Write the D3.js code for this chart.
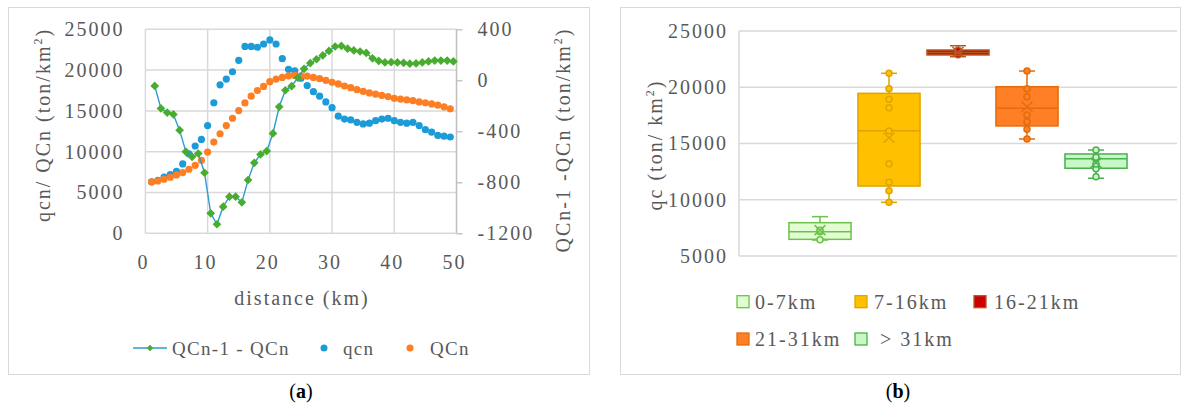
<!DOCTYPE html>
<html lang="en">
<head>
<meta charset="utf-8">
<title>Sediment load along the channel</title>
<script src="https://cdn.jsdelivr.net/npm/d3@7"></script>
<style>
  body { margin: 0; background: #fff; }
  svg text { font-family: "Liberation Serif", "Tinos", "DejaVu Serif", serif !important; fill: #595959; letter-spacing: 2px; white-space: pre; }
</style>
</head>
<body>
<script>
// ---- data ----
var dist = [1,2,3,4,5,6,7,8,9,10,11,12,13,14,15,16,17,18,19,20,21,22,23,24,25,
            26,27,28,29,30,31,32,33,34,35,36,37,38,39,40,41,42,43,44,45,46,47,48,49];
var qcn = [6300,6500,6900,7200,7600,8500,9750,10700,11500,13200,16000,18200,18900,19800,21200,
           22900,22900,22800,23200,23700,23200,21400,20100,19900,19000,18100,17350,16800,16100,15400,
           14350,14000,13900,13600,13400,13500,13800,14000,14100,13800,13600,13500,13600,13200,12700,
           12400,12000,11900,11800];
var QCn = [6300,6420,6630,6870,7150,7440,7850,8330,8940,9960,11180,12200,13200,14100,15040,
           15980,16800,17500,18000,18580,18900,19100,19300,19350,19300,19250,19100,18950,18750,18500,
           18300,18050,17850,17600,17400,17200,17050,16900,16750,16550,16450,16350,16250,16100,16000,
           15850,15700,15500,15250];
var diffDist = [1.5,2.5,3.5,4.5,5.5,6.5,7.5,8.5,9.5,10.5,11.5,12.5,13.5,14.5,15.5,16.5,17.5,18.5,19.5,20.5,
                21.5,22.5,23.5,24.5,25.5,26.5,27.5,28.5,29.5,30.5,31.5,32.5,33.5,34.5,35.5,36.5,37.5,38.5,
                39.5,40.5,41.5,42.5,43.5,44.5,45.5,46.5,47.5,48.5,49.5];
var diff = [-44,-221,-253,-268,-391,-560,-600,-574,-725,-1043,-1129,-991,-913,-913,-957,-782,-647,-581,
            -555,-417,-208,-78,-46,20,90,135,165,195,230,265,270,248,234,226,215,172,152,140,142,140,
            137,130,132,140,148,155,155,155,148];

var xTicks = [0,10,20,30,40,50];
var yLeftTicks = [0,5000,10000,15000,20000,25000];
var yRightTicks = [-1200,-800,-400,0,400];

var categories = ["0-7km","7-16km","16-21km","21-31km","> 31km"];
var boxMin  = [6420, 9770, 22720, 15400, 11910];
var boxQ1   = [6480, 11220, 22870, 16560, 12800];
var boxMed  = [7160, 16140, 23100, 18130, 13650];
var boxQ3   = [7960, 19460, 23310, 20050, 14070];
var boxMax  = [8500, 21240, 23690, 21440, 14420];
var boxMean = [7300, 15510, 23130, 18270, 13290];
var boxPoints = [[6450,7150,7300],
                 [9770,10800,11550,13200,16110,18180,18930,19870,21240],
                 [22900,23100,23300],
                 [15400,16260,16940,17530,19160,19870,21440],
                 [12050,12760,13180,13770,14420]];
var qcTicks = [5000,10000,15000,20000,25000];

var boxFill   = ["#e2fdd2","#ffc000","#cc0000","#ff7f27","#c6f7c4"];
var boxStroke = ["#6cc24a","#e0a400","#b5581f","#e46c0a","#4caf50"];

var W = 1189, H = 409;
var grid = "#d9d9d9";
var plain = function(d) { return String(d); };

var svg = d3.select("body").append("svg")
  .attr("width", W).attr("height", H);
svg.append("rect").attr("width", W).attr("height", H).attr("fill", "#fff");

// panel frames
svg.append("rect").attr("x", 8.5).attr("y", 7.5).attr("width", 581).attr("height", 367)
  .attr("fill", "none").attr("stroke", grid);
svg.append("rect").attr("x", 620.5).attr("y", 7.5).attr("width", 560).attr("height", 367)
  .attr("fill", "none").attr("stroke", grid);

// ================= (a) =================
var x = d3.scaleLinear().domain([0, 50]).range([145.4, 456.5]);
var yL = d3.scaleLinear().domain([0, 25000]).range([233.3, 29.3]);
var yR = d3.scaleLinear().domain([-1200, 400]).range([233.3, 29.3]);

var a = svg.append("g");

a.selectAll("line.hg").data(yLeftTicks).enter().append("line")
  .attr("x1", x(0)).attr("x2", x(50))
  .attr("y1", function(d) { return yL(d); }).attr("y2", function(d) { return yL(d); })
  .attr("stroke", grid).attr("stroke-width", 1.5);
a.selectAll("line.vg").data(xTicks).enter().append("line")
  .attr("y1", yL(0)).attr("y2", yL(25000))
  .attr("x1", function(d) { return x(d); }).attr("x2", function(d) { return x(d); })
  .attr("stroke", grid).attr("stroke-width", 1.5);

var axL = a.append("g").attr("transform", "translate(" + x(0) + ",0)")
  .call(d3.axisLeft(yL).tickValues(yLeftTicks).tickFormat(plain).tickSize(0).tickPadding(21));
var axR = a.append("g").attr("transform", "translate(" + x(50) + ",0)")
  .call(d3.axisRight(yR).tickValues(yRightTicks).tickFormat(plain).tickSize(6).tickPadding(15));
var axB = a.append("g").attr("transform", "translate(0," + yL(0) + ")")
  .call(d3.axisBottom(x).tickValues(xTicks).tickFormat(plain).tickSize(0).tickPadding(22));
[axL, axR, axB].forEach(function(g) {
  g.attr("font-family", null);
  g.select(".domain").remove();
  g.selectAll("text").attr("font-size", 20);
  g.selectAll(".tick line").attr("stroke", "#bfbfbf").attr("stroke-width", 1.3);
});
axB.selectAll("text").attr("dx", -2.5);
axR.append("line").attr("y1", yR(-1200)).attr("y2", yR(400)).attr("stroke", "#bfbfbf").attr("stroke-width", 1.3);

// axis titles (with superscript 2)
function titleWithSup(g, tr, before) {
  var t = g.append("text").attr("transform", tr).attr("text-anchor", "middle").attr("font-size", 20);
  t.append("tspan").text(before);
  t.append("tspan").attr("font-size", 12).attr("dy", -8).text("2");
  t.append("tspan").attr("dy", 8).text(")");
  return t;
}
titleWithSup(a, "translate(50,125) rotate(-90)", "qcn/ QCn (ton/km");
titleWithSup(a, "translate(570,140) rotate(-90)", "QCn-1 -QCn (ton/km");
a.append("text").attr("x", 302).attr("y", 305).attr("text-anchor", "middle")
  .attr("font-size", 20).text("distance (km)");

// series
var blue = "#1d9bd8", orange = "#fd7e23", green = "#48ad2f";
a.selectAll("circle.qcn").data(dist).enter().append("circle")
  .attr("cx", function(d) { return x(d); })
  .attr("cy", function(d, i) { return yL(qcn[i]); })
  .attr("r", 3.6).attr("fill", blue);
a.selectAll("circle.QCn").data(dist).enter().append("circle")
  .attr("cx", function(d) { return x(d); })
  .attr("cy", function(d, i) { return yL(QCn[i]); })
  .attr("r", 3.6).attr("fill", orange);

var line = d3.line()
  .x(function(d) { return x(d); })
  .y(function(d, i) { return yR(diff[i]); });
a.append("path").datum(diffDist).attr("d", line)
  .attr("fill", "none").attr("stroke", "#2e9bd6").attr("stroke-width", 1.4);
var diamond = d3.symbol().type(d3.symbolSquare).size(38);
a.selectAll("path.dm").data(diffDist).enter().append("path")
  .attr("d", diamond)
  .attr("transform", function(d, i) {
    return "translate(" + x(d) + "," + yR(diff[i]) + ") rotate(45)";
  })
  .attr("fill", green);

// legend (a)
var lg = a.append("g");
lg.append("line").attr("x1", 133).attr("x2", 167).attr("y1", 348).attr("y2", 348)
  .attr("stroke", "#2e9bd6").attr("stroke-width", 1.6);
lg.append("path").attr("d", d3.symbol().type(d3.symbolSquare).size(20))
  .attr("transform", "translate(150,348) rotate(45)").attr("fill", green);
lg.append("text").attr("x", 172).attr("y", 355).attr("font-size", 19).style("letter-spacing", "1.3px").text("QCn-1 - QCn");
lg.append("circle").attr("cx", 324).attr("cy", 348).attr("r", 3.5).attr("fill", blue);
lg.append("text").attr("x", 343).attr("y", 355).attr("font-size", 19).style("letter-spacing", "1.3px").text("qcn");
lg.append("circle").attr("cx", 410).attr("cy", 348).attr("r", 3.5).attr("fill", orange);
lg.append("text").attr("x", 430).attr("y", 355).attr("font-size", 19).style("letter-spacing", "1.3px").text("QCn");

var la = svg.append("text").attr("x", 301).attr("y", 398).attr("text-anchor", "middle")
  .attr("font-size", 20).style("fill", "#000").style("letter-spacing", "0px");
la.append("tspan").text("(");
la.append("tspan").attr("font-weight", "bold").text("a");
la.append("tspan").text(")");

// ================= (b) =================
var y2 = d3.scaleLinear().domain([5000, 25000]).range([256, 31]);
var xb = d3.scaleBand().domain(categories).range([785.5, 1130.5]).paddingInner(0.1).paddingOuter(0.05);
var b = svg.append("g");

b.selectAll("line.hg").data(qcTicks).enter().append("line")
  .attr("x1", 739).attr("x2", 1177)
  .attr("y1", function(d) { return y2(d); }).attr("y2", function(d) { return y2(d); })
  .attr("stroke", grid).attr("stroke-width", 1.5);
b.append("line").attr("x1", 739).attr("x2", 739).attr("y1", y2(5000)).attr("y2", y2(25000))
  .attr("stroke", grid).attr("stroke-width", 1.5);

var axQ = b.append("g").attr("transform", "translate(739,0)")
  .call(d3.axisLeft(y2).tickValues(qcTicks).tickFormat(plain).tickSize(0).tickPadding(11));
axQ.attr("font-family", null);
axQ.select(".domain").remove();
axQ.selectAll("text").attr("font-size", 20);

titleWithSup(b, "translate(662,145) rotate(-90)", "qc (ton/ km");

categories.forEach(function(c, i) {
  var g = b.append("g");
  var x0 = xb(c), bw = xb.bandwidth(), cx = x0 + bw / 2;
  var st = boxStroke[i], fl = boxFill[i];
  // whiskers
  g.append("line").attr("x1", cx).attr("x2", cx).attr("y1", y2(boxMax[i])).attr("y2", y2(boxQ3[i]))
    .attr("stroke", st).attr("stroke-width", 1.5);
  g.append("line").attr("x1", cx).attr("x2", cx).attr("y1", y2(boxQ1[i])).attr("y2", y2(boxMin[i]))
    .attr("stroke", st).attr("stroke-width", 1.5);
  [boxMax[i], boxMin[i]].forEach(function(v) {
    g.append("line").attr("x1", cx - 8).attr("x2", cx + 8).attr("y1", y2(v)).attr("y2", y2(v))
      .attr("stroke", st).attr("stroke-width", 1.5);
  });
  g.append("rect").attr("x", x0).attr("width", bw)
    .attr("y", y2(boxQ3[i])).attr("height", y2(boxQ1[i]) - y2(boxQ3[i]))
    .attr("fill", fl).attr("stroke", st).attr("stroke-width", 1.5);
  g.append("line").attr("x1", x0).attr("x2", x0 + bw).attr("y1", y2(boxMed[i])).attr("y2", y2(boxMed[i]))
    .attr("stroke", st).attr("stroke-width", 1.5);
  g.selectAll("circle").data(boxPoints[i]).enter().append("circle")
    .attr("cx", cx).attr("cy", function(d) { return y2(d); }).attr("r", 3)
    .attr("fill", fl).attr("stroke", st).attr("stroke-width", 1.5);
  var my = y2(boxMean[i]);
  g.append("path").attr("d", "M" + (cx - 5.5) + "," + (my - 5) + "L" + (cx + 5.5) + "," + (my + 5) +
      "M" + (cx - 5.5) + "," + (my + 5) + "L" + (cx + 5.5) + "," + (my - 5))
    .attr("stroke", st).attr("stroke-width", 1.5).attr("fill", "none");
});

// legend (b)
var legPos = [[737, 301.7], [855, 301.7], [974, 301.7], [737, 339], [855, 339]];
var legTextX = [755, 874, 994, 755, 880];
categories.forEach(function(c, i) {
  b.append("rect").attr("x", legPos[i][0]).attr("y", legPos[i][1] - 6).attr("width", 12).attr("height", 12)
    .attr("fill", boxFill[i]).attr("stroke", boxStroke[i]).attr("stroke-width", 1.3);
  b.append("text").attr("x", legTextX[i]).attr("y", legPos[i][1] + 7).attr("font-size", 20).text(c);
});

var lb = svg.append("text").attr("x", 898).attr("y", 398).attr("text-anchor", "middle")
  .attr("font-size", 20).style("fill", "#000").style("letter-spacing", "0px");
lb.append("tspan").text("(");
lb.append("tspan").attr("font-weight", "bold").text("b");
lb.append("tspan").text(")");
</script>
</body>
</html>
